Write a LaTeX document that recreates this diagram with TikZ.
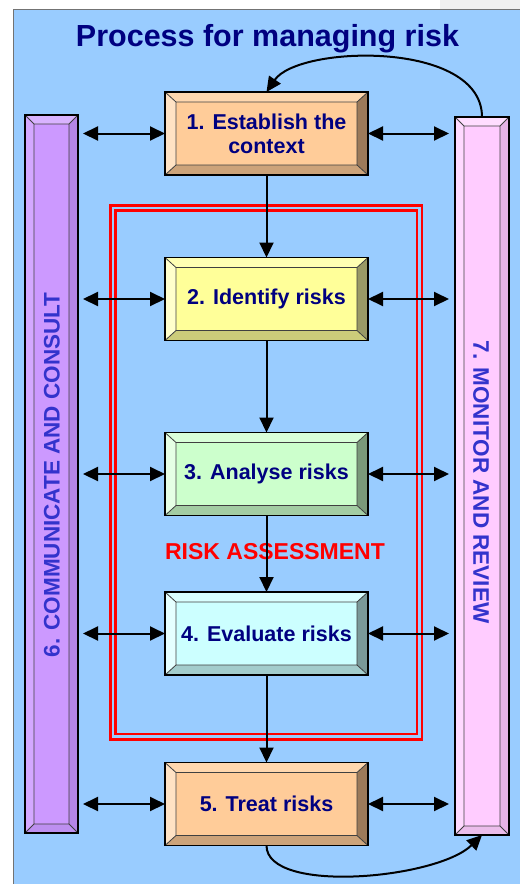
\documentclass[tikz,border=0pt]{standalone}
\usepackage{fontspec}
\setmainfont{Liberation Sans}
\usetikzlibrary{calc,arrows.meta,backgrounds}
\definecolor{bgblue}{HTML}{99CCFF}
\definecolor{navy}{HTML}{000080}
\definecolor{bartext}{HTML}{3333CC}
\definecolor{riskred}{HTML}{FF0000}
% orange
\definecolor{orF}{HTML}{FFCC99}\definecolor{orL}{HTML}{FFE2C4}\definecolor{orT}{HTML}{FFD7AE}\definecolor{orR}{HTML}{9C7A5A}\definecolor{orB}{HTML}{CCA37A}
% yellow
\definecolor{yeF}{HTML}{FFFF99}\definecolor{yeL}{HTML}{FFFFCC}\definecolor{yeT}{HTML}{FFFFB3}\definecolor{yeR}{HTML}{999966}\definecolor{yeB}{HTML}{CCCC7A}
% green
\definecolor{grF}{HTML}{CCFFCC}\definecolor{grL}{HTML}{E5FFE5}\definecolor{grT}{HTML}{D9FFD9}\definecolor{grR}{HTML}{7A997A}\definecolor{grB}{HTML}{A3CCA3}
% cyan
\definecolor{cyF}{HTML}{CCFFFF}\definecolor{cyL}{HTML}{E5FFFF}\definecolor{cyT}{HTML}{D9FFFF}\definecolor{cyR}{HTML}{7A9999}\definecolor{cyB}{HTML}{A3CCCC}
% purple
\definecolor{puF}{HTML}{CC99FF}\definecolor{puL}{HTML}{D4A8FF}\definecolor{puT}{HTML}{D9B3FF}\definecolor{puR}{HTML}{B585E6}\definecolor{puB}{HTML}{BD8FF0}
% pink
\definecolor{piF}{HTML}{FFCCFF}\definecolor{piL}{HTML}{FFD9FF}\definecolor{piT}{HTML}{FFDDFF}\definecolor{piR}{HTML}{E6B3E6}\definecolor{piB}{HTML}{EBBDEB}

\newcommand\bevelit[8]{%
\begin{pgfonlayer}{background}
 \path (#1.north west) coordinate (#1A) (#1.north east) coordinate (#1B)
       (#1.south east) coordinate (#1C) (#1.south west) coordinate (#1D);
 \path ($(#1A)+(#2pt,-#3pt)$) coordinate (#1a) ($(#1B)+(-#2pt,-#3pt)$) coordinate (#1b)
       ($(#1C)+(-#2pt,#3pt)$) coordinate (#1c) ($(#1D)+(#2pt,#3pt)$) coordinate (#1d);
 \fill[#4] (#1a) rectangle (#1c);
 \fill[#5] (#1A) -- (#1a) -- (#1d) -- (#1D) -- cycle;
 \fill[#6] (#1A) -- (#1B) -- (#1b) -- (#1a) -- cycle;
 \fill[#7] (#1B) -- (#1C) -- (#1c) -- (#1b) -- cycle;
 \fill[#8] (#1D) -- (#1C) -- (#1c) -- (#1d) -- cycle;
 \draw[bevedge] (#1a) rectangle (#1c) (#1A) -- (#1a) (#1B) -- (#1b) (#1C) -- (#1c) (#1D) -- (#1d);
\end{pgfonlayer}}

\begin{document}
\begin{tikzpicture}[x=1pt,y=-1pt,
  stepbox/.style={draw=black, line width=1.3pt, inner sep=0pt, outer sep=0pt,
    minimum width=203pt, minimum height=83pt, text=navy, align=center,
    font=\bfseries\fontsize{21.5}{24}\selectfont},
  sidebar/.style={draw=black, line width=1.3pt, inner sep=0pt, outer sep=0pt,
    minimum width=53pt, minimum height=718pt},
  sidetext/.style={text=bartext, font=\bfseries\fontsize{22.5}{26}\selectfont, inner sep=0pt},
  bevedge/.style={draw=black!75, line width=0.8pt},
  tip/.tip={Triangle[length=15pt,width=14pt]},
  link/.style={line width=2pt, -tip},
  both/.style={line width=2pt, tip-tip},
  redframe/.style={draw=riskred, line width=2.6pt}]
\useasboundingbox (0,0) rectangle (520,884);
\begin{pgfonlayer}{background}
\fill[white] (0,0) rectangle (520,884);
\fill[black!6] (440,0) rectangle (520,9.5);
\fill[bgblue] (13,9.5) rectangle (520,884);
\end{pgfonlayer}
\draw[black!55, line width=1pt] (13,884) -- (13,9.5) -- (520,9.5);

% title
\node[text=navy, font=\bfseries\fontsize{30.5}{34}\selectfont, anchor=base, inner sep=0pt] (title) at (267.5,46) {Process for managing risk};

% red frame
\draw[redframe] (110.7,205.5) rectangle (422,739.5);
\draw[redframe] (115.5,210.5) rectangle (417,734);
\node[text=riskred, font=\bfseries\fontsize{23}{26}\selectfont, inner sep=0pt] (ra) at (275,552) {RISK ASSESSMENT};

% side bars
\node[sidebar] (lbar) at (51.5,474) {};
\bevelit{lbar}{9}{9}{puF}{puL}{puT}{puR}{puB}
\node[sidetext, rotate=90] (ltext) at (52,475) {6. COMMUNICATE AND CONSULT};
\node[sidebar, minimum width=54pt] (rbar) at (482,476) {};
\bevelit{rbar}{9}{9}{piF}{piL}{piT}{piR}{piB}
\node[sidetext, rotate=-90] (rtext) at (481,482) {7. MONITOR AND REVIEW};

% steps
\node[stepbox] (b1) at (266.5,133.5) {1. Establish the\\context};
\bevelit{b1}{11}{10}{orF}{orL}{orT}{orR}{orB}
\node[stepbox] (b2) at (266.5,299) {2. Identify risks};
\bevelit{b2}{11}{10}{yeF}{yeL}{yeT}{yeR}{yeB}
\node[stepbox] (b3) at (266.5,474) {3. Analyse risks};
\bevelit{b3}{11}{10}{grF}{grL}{grT}{grR}{grB}
\node[stepbox] (b4) at (266.5,633.5) {4. Evaluate risks};
\bevelit{b4}{11}{10}{cyF}{cyL}{cyT}{cyR}{cyB}
\node[stepbox] (b5) at (266.5,804) {5. Treat risks};
\bevelit{b5}{11}{10}{orF}{orL}{orT}{orR}{orB}

% vertical flow
\draw[link] (b1.south) -- (b2.north);
\draw[link] (b2.south) -- (b3.north);
\draw[link] (b3.south) -- (b4.north);
\draw[link] (b4.south) -- (b5.north);

% horizontal double arrows
\foreach \b in {b1,b2,b3,b4,b5}{
  \draw[both, shorten <=5pt] (lbar.east |- \b.west) -- (\b.west);
  \draw[both, shorten >=6pt] (\b.east) -- (rbar.west |- \b.east);
}

% feedback loops
\draw[link] (rbar.north) .. controls +(0,-77) and +(32,-47) .. (b1.north);
\draw[link] (b5.south) .. controls +(0,49) and +(-45,44) .. (rbar.south);
\end{tikzpicture}
\end{document}
